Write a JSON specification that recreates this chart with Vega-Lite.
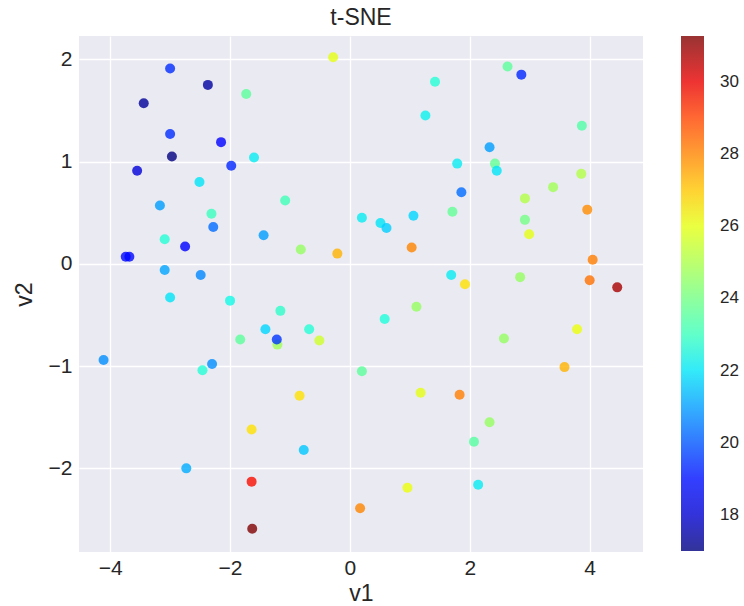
{
  "$schema": "https://vega.github.io/schema/vega-lite/v6.json",
  "autosize": {"type": "none"},
  "padding": {"left": 79, "top": 36, "right": 101, "bottom": 54},
  "width": 564,
  "height": 516,
  "background": "white",
  "config": {
    "font": "Liberation Sans",
    "view": {"fill": "#EAEAF2", "stroke": null},
    "axis": {
      "grid": true, "gridColor": "#ffffff", "gridWidth": 1.3,
      "domain": false, "ticks": false,
      "labelFont": "Liberation Sans", "labelFontSize": 21, "labelColor": "#262626",
      "titleFont": "Liberation Sans", "titleFontSize": 23, "titleColor": "#262626", "titleFontWeight": "normal"
    }
  },
  "title": {"text": "t-SNE", "fontSize": 23, "font": "Liberation Sans", "fontWeight": "normal", "color": "#262626", "anchor": "middle", "offset": 6},
  "data": {
    "values": [
      {"v1": -0.28, "v2": 2.02, "value": 26.0},
      {"v1": -3.00, "v2": 1.91, "value": 19.4},
      {"v1": -2.37, "v2": 1.75, "value": 17.4},
      {"v1": -1.73, "v2": 1.66, "value": 23.6},
      {"v1": -3.44, "v2": 1.57, "value": 17.3},
      {"v1": -3.00, "v2": 1.27, "value": 19.4},
      {"v1": -2.15, "v2": 1.19, "value": 18.8},
      {"v1": -2.97, "v2": 1.05, "value": 17.0},
      {"v1": -1.60, "v2": 1.04, "value": 22.1},
      {"v1": -1.98, "v2": 0.96, "value": 19.3},
      {"v1": -3.55, "v2": 0.91, "value": 18.1},
      {"v1": -2.51, "v2": 0.80, "value": 22.0},
      {"v1": -1.08, "v2": 0.62, "value": 23.1},
      {"v1": -3.17, "v2": 0.57, "value": 21.0},
      {"v1": -2.31, "v2": 0.49, "value": 23.0},
      {"v1": 0.20, "v2": 0.45, "value": 22.1},
      {"v1": -2.28, "v2": 0.36, "value": 20.3},
      {"v1": -1.44, "v2": 0.28, "value": 21.0},
      {"v1": -3.09, "v2": 0.24, "value": 22.6},
      {"v1": -2.75, "v2": 0.17, "value": 18.6},
      {"v1": -0.82, "v2": 0.14, "value": 24.6},
      {"v1": -0.21, "v2": 0.10, "value": 27.3},
      {"v1": -3.74, "v2": 0.07, "value": 18.9},
      {"v1": -3.68, "v2": 0.07, "value": 18.9},
      {"v1": -3.09, "v2": -0.06, "value": 21.1},
      {"v1": -2.49, "v2": -0.11, "value": 20.7},
      {"v1": -3.00, "v2": -0.33, "value": 22.0},
      {"v1": -2.00, "v2": -0.36, "value": 22.3},
      {"v1": -1.16, "v2": -0.46, "value": 22.8},
      {"v1": -1.41, "v2": -0.64, "value": 21.8},
      {"v1": -0.68, "v2": -0.64, "value": 22.6},
      {"v1": -1.83, "v2": -0.74, "value": 23.6},
      {"v1": -1.21, "v2": -0.79, "value": 24.8},
      {"v1": -1.22, "v2": -0.74, "value": 19.5},
      {"v1": -0.51, "v2": -0.75, "value": 25.6},
      {"v1": -4.11, "v2": -0.94, "value": 20.8},
      {"v1": -2.30, "v2": -0.98, "value": 20.8},
      {"v1": -2.46, "v2": -1.04, "value": 22.6},
      {"v1": 0.20, "v2": -1.05, "value": 23.6},
      {"v1": -0.84, "v2": -1.29, "value": 26.6},
      {"v1": -1.64, "v2": -1.62, "value": 26.6},
      {"v1": -0.77, "v2": -1.82, "value": 21.6},
      {"v1": -2.73, "v2": -2.00, "value": 21.2},
      {"v1": -1.64, "v2": -2.13, "value": 29.8},
      {"v1": 0.17, "v2": -2.39, "value": 28.0},
      {"v1": -1.63, "v2": -2.59, "value": 31.27},
      {"v1": 2.63, "v2": 1.93, "value": 23.6},
      {"v1": 2.86, "v2": 1.85, "value": 19.3},
      {"v1": 1.42, "v2": 1.78, "value": 22.6},
      {"v1": 1.26, "v2": 1.45, "value": 22.2},
      {"v1": 3.87, "v2": 1.35, "value": 23.4},
      {"v1": 2.33, "v2": 1.14, "value": 21.0},
      {"v1": 1.79, "v2": 0.98, "value": 22.1},
      {"v1": 2.42, "v2": 0.98, "value": 23.7},
      {"v1": 2.45, "v2": 0.91, "value": 22.0},
      {"v1": 3.86, "v2": 0.88, "value": 25.1},
      {"v1": 3.39, "v2": 0.75, "value": 24.8},
      {"v1": 1.86, "v2": 0.70, "value": 20.3},
      {"v1": 2.92, "v2": 0.64, "value": 25.1},
      {"v1": 3.96, "v2": 0.53, "value": 27.9},
      {"v1": 0.51, "v2": 0.40, "value": 22.0},
      {"v1": 0.61, "v2": 0.35, "value": 21.7},
      {"v1": 1.06, "v2": 0.47, "value": 21.8},
      {"v1": 1.71, "v2": 0.51, "value": 23.7},
      {"v1": 2.92, "v2": 0.43, "value": 24.0},
      {"v1": 2.99, "v2": 0.29, "value": 26.0},
      {"v1": 1.03, "v2": 0.16, "value": 28.0},
      {"v1": 4.05, "v2": 0.04, "value": 28.1},
      {"v1": 1.69, "v2": -0.11, "value": 22.1},
      {"v1": 1.92, "v2": -0.20, "value": 26.6},
      {"v1": 2.84, "v2": -0.13, "value": 24.6},
      {"v1": 4.00, "v2": -0.16, "value": 28.3},
      {"v1": 4.46, "v2": -0.23, "value": 30.8},
      {"v1": 0.58, "v2": -0.54, "value": 22.5},
      {"v1": 1.11, "v2": -0.42, "value": 24.6},
      {"v1": 2.57, "v2": -0.73, "value": 24.6},
      {"v1": 3.79, "v2": -0.64, "value": 26.1},
      {"v1": 3.58, "v2": -1.01, "value": 27.3},
      {"v1": 1.18, "v2": -1.26, "value": 26.0},
      {"v1": 1.83, "v2": -1.28, "value": 28.1},
      {"v1": 2.33, "v2": -1.55, "value": 24.6},
      {"v1": 2.07, "v2": -1.74, "value": 23.5},
      {"v1": 2.14, "v2": -2.16, "value": 22.1},
      {"v1": 0.96, "v2": -2.19, "value": 26.1}
    ]
  },
  "mark": {"type": "circle", "size": 100, "opacity": 0.8},
  "encoding": {
    "x": {
      "field": "v1", "type": "quantitative",
      "scale": {"domain": [-4.52, 4.89], "nice": false, "zero": false},
      "axis": {"values": [-4, -2, 0, 2, 4], "title": "v1", "labelPadding": 5, "titlePadding": 4}
    },
    "y": {
      "field": "v2", "type": "quantitative",
      "scale": {"domain": [-2.818, 2.228], "nice": false, "zero": false},
      "axis": {"values": [-2, -1, 0, 1, 2], "title": "v2", "labelPadding": 7, "titlePadding": 12}
    },
    "color": {
      "field": "value", "type": "quantitative",
      "scale": {
        "type": "linear",
        "domain": [17, 18.573, 18.7875, 21.862, 22.005, 22.3625, 26.152, 26.295, 26.438, 29.727, 30.013, 31.27],
        "range": ["#000080", "#0000ff", "#0000ff", "#00dbff", "#00e5f7", "#15ffe2", "#eeff08", "#f7f500", "#ffec00", "#ff1300", "#e80000", "#800000"],
        "interpolate": "rgb"
      },
      "legend": {
        "title": null,
        "orient": "none",
        "legendX": 602,
        "legendY": 0,
        "direction": "vertical",
        "gradientLength": 515,
        "gradientThickness": 23,
        "gradientStrokeWidth": 0,
        "values": [18, 20, 22, 24, 26, 28, 30],
        "labelFont": "Liberation Sans",
        "labelFontSize": 17,
        "labelColor": "#262626",
        "labelOffset": 16,
        "labelOverlap": false
      }
    }
  }
}
